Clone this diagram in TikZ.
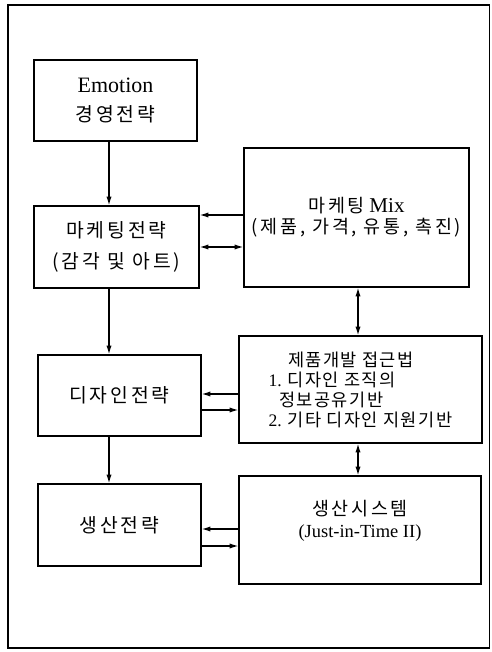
\documentclass[tikz,border=0pt]{standalone}
\usepackage{fontspec}
\setmainfont{Liberation Serif}
\newfontfamily\kr{Noto Sans CJK KR}[LetterSpace=15]
\newfontfamily\krs{Noto Sans CJK KR}[LetterSpace=8]
\usetikzlibrary{arrows.meta}

\begin{document}
\begin{tikzpicture}[x=0.02cm, y=-0.02cm,
		box/.style={draw, line width=0.8pt, inner sep=0pt, align=center},
		link/.style={line width=0.7pt, -{Latex[length=5pt, width=3pt]}},
		both/.style={line width=0.7pt, {Latex[length=5pt, width=3pt]}-{Latex[length=5pt, width=3pt]}}]
		%%%%% START %%%%%
		\useasboundingbox (0, 0) rectangle (491, 652);
		\draw[line width=0.7pt] (8, 5) rectangle (489.5, 648);
		
		% left column
		\node[box, minimum width=3.26cm, minimum height=1.62cm, font=\fontsize{11}{14}\selectfont] (emo) at (115.5, 100.5) {{\fontsize{12.5}{14}\selectfont Emotion}\\[3pt]{\kr 경영전략}};
		\node[box, minimum width=3.30cm, minimum height=1.64cm, font=\fontsize{11}{14}\selectfont] (mkt) at (116.5, 247) {\kr 마케팅전략\\[4pt]\kr (감각 및 아트)};
		\node[box, minimum width=3.26cm, minimum height=1.62cm, font=\fontsize{11}{14}\selectfont] (des) at (119.5, 395.5) {\kr 디자인전략};
		\node[box, minimum width=3.26cm, minimum height=1.64cm, font=\fontsize{11}{14}\selectfont] (prd) at (119.5, 525) {\kr 생산전략};
		
		% right column
		\node[box, minimum width=4.50cm, minimum height=2.78cm, font=\fontsize{10.5}{12}\selectfont] (mix) at (356.5, 217.5) {{\kr 마케팅} {\fontsize{12}{12}\selectfont Mix}\\{\kr (제품, 가격, 유통, 촉진)}};
		\node[box, align=left, minimum width=4.86cm, minimum height=2.14cm, font=\fontsize{10}{11.4}\selectfont] (dev) at (360.5, 389.5) {\hspace{1.1em}{\krs 제품개발 접근법}\\1. {\krs 디자인 조직의}\\\hspace{0.6em}{\krs 정보공유기반}\\2. {\krs 기타 디자인 지원기반}};
		\node[box, minimum width=4.84cm, minimum height=2.16cm, label={[align=center, yshift=0.18cm, font=\fontsize{10.5}{12.5}\selectfont]center:{\kr 생산시스템}\\(Just-in-Time II)}] (sys) at (360, 530) {};
		
		% connectors
		\coordinate (lx) at (109, 0);
		\coordinate (rx) at (358, 0);
		\draw[link] (emo.south -| lx) -- (mkt.north -| lx);
		\draw[link] (mkt.south -| lx) -- (des.north -| lx);
		\draw[link] (des.south -| lx) -- (prd.north -| lx);
		\draw[both] (mix.south -| rx) -- (dev.north -| rx);
		\draw[both] (dev.south -| rx) -- (sys.north -| rx);
		
		\draw[link] (mix.west |- 0, 215) -- (mkt.east |- 0, 215);
		\draw[both] (mkt.east |- 0, 247) -- (mix.west |- 0, 247);
		\draw[link] (dev.west |- 0, 394) -- (des.east |- 0, 394);
		\draw[link] (des.east |- 0, 410) -- (dev.west |- 0, 410);
		\draw[link] (sys.west |- 0, 529) -- (prd.east |- 0, 529);
		\draw[link] (prd.east |- 0, 546) -- (sys.west |- 0, 546);
		%%%%% END %%%%%
	\end{tikzpicture}
\end{document}
